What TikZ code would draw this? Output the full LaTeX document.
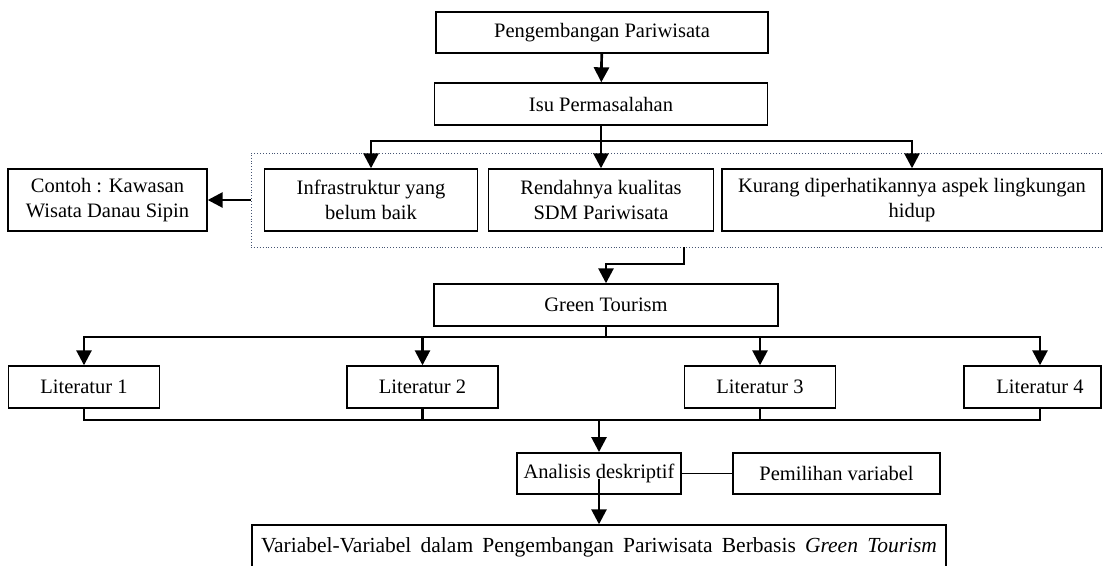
\documentclass[tikz,border=0pt]{standalone}
\usepackage{fontspec}
\setmainfont{Liberation Serif}
\usetikzlibrary{arrows.meta,calc}
\definecolor{dotc}{RGB}{70,85,115}
\tikzset{
  box/.style={draw, line width=1.4pt, inner sep=0pt, align=center,
    font=\fontsize{20.5}{25}\selectfont},
  boxb/.style={box, line width=1.9pt},
  grpbox/.style={draw=dotc, dotted, line width=0.9pt, inner sep=0pt},
  conn/.style={line width=2.7pt},
  arr/.style={conn, -{Triangle[width=15pt,length=15pt]}},
}
\begin{document}
\begin{tikzpicture}[x=1pt,y=-1pt]
\useasboundingbox (0,0) rectangle (1103,565);
% group (dotted)
\node[grpbox, minimum width=854pt, minimum height=94pt] (grp) at (678,200) {};
% nodes
\node[box, minimum width=332pt, minimum height=41pt] (peng) at (602,32.5) {Pengembangan Pariwisata};
\node[box, minimum width=333pt, minimum height=42pt] (isu) at (601,104) {Isu Permasalahan};
\node[box, minimum width=199pt, minimum height=62pt] (con) at (107.5,200) {Contoh : Kawasan\\Wisata Danau Sipin};
\node[box, minimum width=213pt, minimum height=62pt] (inf) at (371,200) {Infrastruktur yang\\belum baik};
\node[box, minimum width=225pt, minimum height=62pt] (ren) at (601,200) {Rendahnya kualitas\\SDM Pariwisata};
\node[box, minimum width=380pt, minimum height=62pt] (kur) at (912,200) {Kurang diperhatikannya aspek lingkungan\\hidup};
\node[box, minimum width=344pt, minimum height=42pt] (grn) at (606,305) {Green Tourism};
\node[box, minimum width=151pt, minimum height=42pt] (l1) at (84,387) {Literatur 1};
\node[box, minimum width=151pt, minimum height=42pt] (l2) at (422.5,387) {Literatur 2};
\node[box, minimum width=151pt, minimum height=42pt] (l3) at (760,387) {Literatur 3};
\node[box, minimum width=137pt, minimum height=42pt] (l4) at (1032.5,387) {\hspace*{15pt}Literatur 4};
\node[boxb, minimum width=164pt, minimum height=41pt] (ana) at (599,473.5) {Analisis deskriptif};
\node[boxb, minimum width=207pt, minimum height=41pt] (pem) at (836.5,473.5) {Pemilihan variabel};
\node[box, minimum width=694pt, minimum height=44pt, font=\fontsize{21.5}{25}\selectfont] (var) at (599,547) {\makebox[676pt][s]{Variabel-Variabel dalam Pengembangan Pariwisata Berbasis \textit{Green Tourism}}};
% helper coordinates
\coordinate (b1) at (0,141);
\coordinate (gout) at (684,247);
\coordinate (gk) at (606,264);
\coordinate (lb) at (0,337);
\coordinate (bb) at (0,420);
% connectors
\draw[arr] (peng) -- (isu);
\draw[arr] (isu.south) -- (ren.north);
\draw[arr] (isu.south |- b1) -| (inf.north);
\draw[arr] (isu.south |- b1) -| (kur.north);
\draw[arr] (grp.west |- con.east) -- (con.east);
\draw[arr] (gout) |- (gk) -| (grn.north);
\draw[conn] (grn.south) -- (grn.south |- lb);
\draw[arr] (grn.south |- lb) -| (l1.north);
\draw[arr] (grn.south |- lb) -| (l2.north);
\draw[arr] (grn.south |- lb) -| (l3.north);
\draw[arr] (grn.south |- lb) -| ([xshift=7.5pt]l4.north);
\draw[conn] (l1.south) |- ([xshift=7.5pt]l4.south |- bb) -- ([xshift=7.5pt]l4.south);
\draw[conn] (l2.south) -- (l2.south |- bb);
\draw[conn] (l3.south) -- (l3.south |- bb);
\draw[arr] (ana.north |- bb) -- (ana.north);
\draw[conn, line width=1.9pt] (ana.east) -- (pem.west);
\draw[arr] ([yshift=16pt]ana.south) -- (var.north);
\end{tikzpicture}
\end{document}
